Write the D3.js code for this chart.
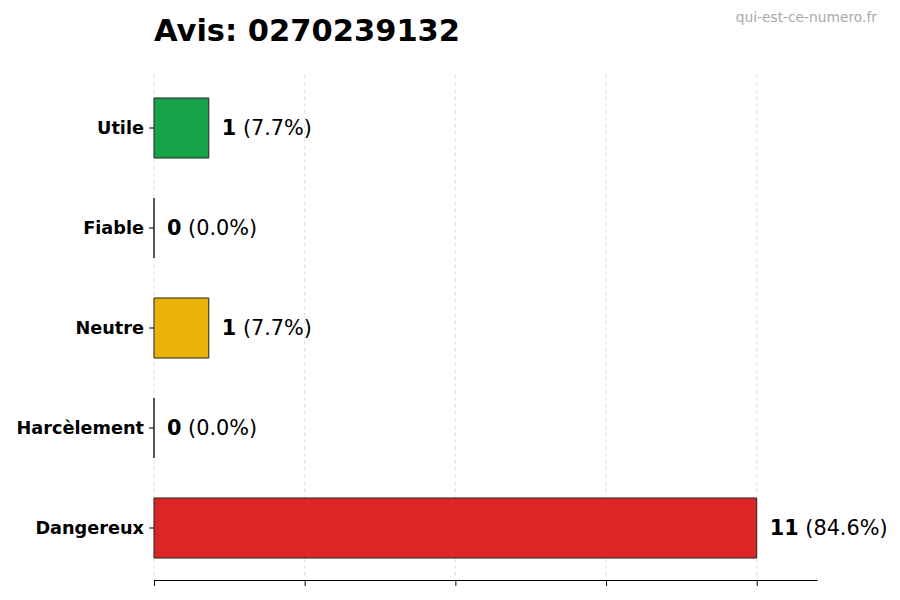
<!DOCTYPE html>
<html>
<head>
<meta charset="utf-8">
<script src="https://cdn.jsdelivr.net/npm/d3@7"></script>
<style>
  body { margin: 0; background: #fff; }
  svg { font-family: "DejaVu Sans", sans-serif; }
</style>
</head>
<body>
<script>
// Chart data
var categories = ["Utile", "Fiable", "Neutre", "Harcèlement", "Dangereux"];
var counts = [1, 0, 1, 0, 11];
var colors = ["#16a34a", "#9ca3af", "#eab308", "#6b7280", "#dc2626"];
var xTicks = [0, 2.75, 5.5, 8.25, 11];
var phone = "0270239132";

var svgWidth = 900;
var svgHeight = 600;
var margin = { top: 75, right: 83, bottom: 20, left: 154 };

var total = d3.sum(counts);
var data = categories.map(function (c, i) {
    return { cat: c, n: counts[i], color: colors[i], pct: total ? counts[i] / total * 100 : 0 };
});

var svg = d3.select("body").append("svg")
    .attr("width", svgWidth)
    .attr("height", svgHeight);

var xScale = d3.scaleLinear()
    .domain([0, d3.max(counts) * 1.1])
    .range([margin.left, svgWidth - margin.right]);

var yScale = d3.scaleBand()
    .domain(categories)
    .range([78, 578])
    .paddingInner(0.4)
    .paddingOuter(0.2);

var axisY = svgHeight - margin.bottom;

// grid
svg.append("g").selectAll("line")
    .data(xTicks)
    .enter().append("line")
    .attr("x1", d => xScale(d)).attr("x2", d => xScale(d))
    .attr("y1", margin.top).attr("y2", axisY)
    .attr("stroke", "#d9d9d9")
    .attr("stroke-dasharray", "4,3")
    .attr("stroke-width", 0.8);

// bars (paths so that zero-width bars still show their outline)
svg.append("g").selectAll("path")
    .data(data)
    .enter().append("path")
    .attr("d", function (d) {
        var x0 = xScale(0), w = xScale(d.n) - xScale(0);
        var y0 = yScale(d.cat), h = yScale.bandwidth();
        return `M${x0},${y0}h${w}v${h}h${-w}Z`;
    })
    .attr("fill", d => d.color)
    .attr("stroke", "#222")
    .attr("stroke-width", 1);

// value labels
var lbl = svg.append("g").selectAll("text")
    .data(data)
    .enter().append("text")
    .attr("x", d => xScale(d.n) + 13)
    .attr("y", d => yScale(d.cat) + yScale.bandwidth() / 2)
    .attr("dy", "0.35em")
    .attr("font-size", 20.8)
    .attr("fill", "#000");
lbl.append("tspan").attr("font-weight", "bold").text(d => d.n);
lbl.append("tspan").text(d => " (" + d.pct.toFixed(1) + "%)");

// x axis (no labels)
var xAxis = svg.append("g")
    .attr("transform", `translate(0, ${axisY})`)
    .call(d3.axisBottom(xScale).tickValues(xTicks).tickFormat("").tickSize(6).tickSizeOuter(0));
xAxis.select(".domain").attr("stroke", "#000");

// y axis
var yAxis = svg.append("g")
    .attr("transform", `translate(${margin.left}, 0)`)
    .call(d3.axisLeft(yScale).tickSize(5).tickPadding(5));
yAxis.select(".domain").remove();
yAxis.selectAll("text")
    .attr("font-size", 17.7)
    .attr("font-weight", "bold")
    .attr("font-family", "DejaVu Sans, sans-serif")
    .attr("fill", "#000");

// title
svg.append("text")
    .attr("x", margin.left)
    .attr("y", 41)
    .attr("font-size", 30.5)
    .attr("font-weight", "bold")
    .text("Avis: " + phone);

svg.append("text")
    .attr("x", 877)
    .attr("y", 22)
    .attr("text-anchor", "end")
    .attr("font-size", 13.8)
    .attr("fill", "#aaa")
    .text("qui-est-ce-numero.fr");
</script>
</body>
</html>
